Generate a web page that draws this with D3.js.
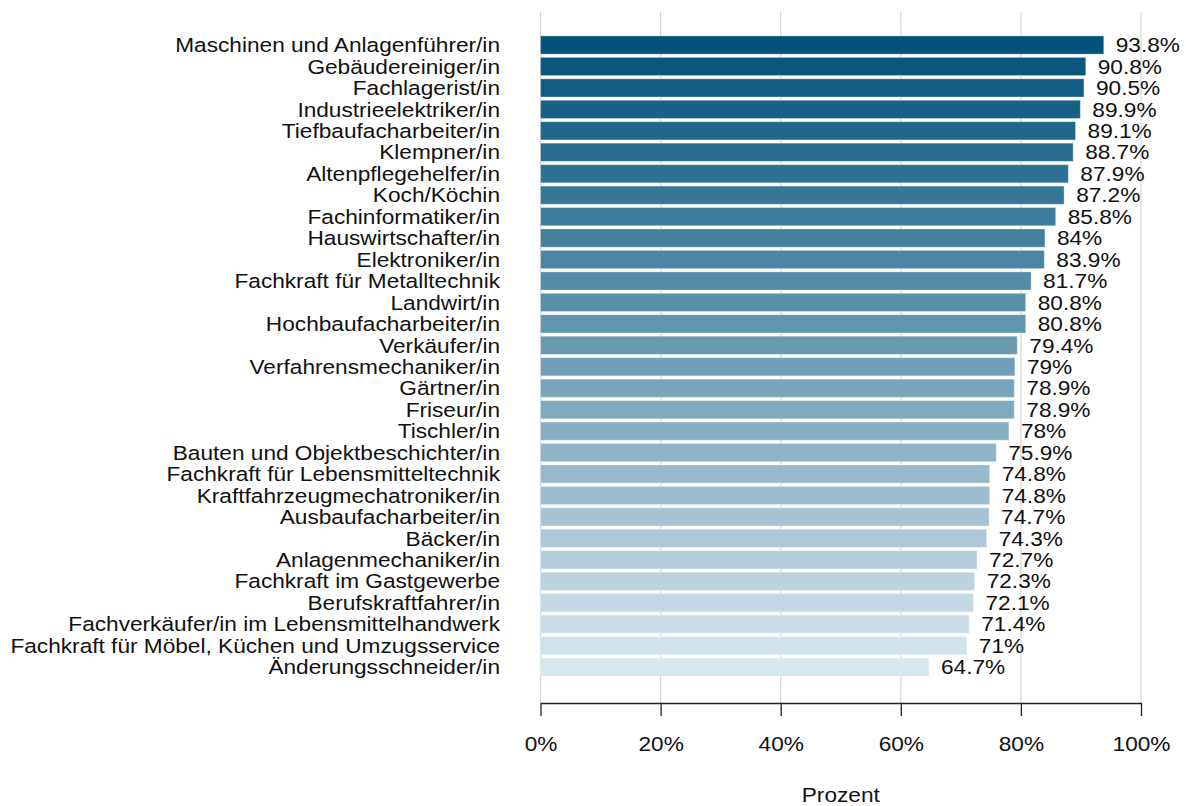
<!DOCTYPE html>
<html><head><meta charset="utf-8">
<script src="https://cdn.jsdelivr.net/npm/d3@7"></script>
<style>body{margin:0;background:#fff}svg{display:block;font-family:"Liberation Sans",Arial,sans-serif}</style>
</head><body><svg id="c" width="1186" height="806"></svg>
<script>
const categories = ["Maschinen und Anlagenführer/in","Gebäudereiniger/in","Fachlagerist/in","Industrieelektriker/in","Tiefbaufacharbeiter/in","Klempner/in","Altenpflegehelfer/in","Koch/Köchin","Fachinformatiker/in","Hauswirtschafter/in","Elektroniker/in","Fachkraft für Metalltechnik","Landwirt/in","Hochbaufacharbeiter/in","Verkäufer/in","Verfahrensmechaniker/in","Gärtner/in","Friseur/in","Tischler/in","Bauten und Objektbeschichter/in","Fachkraft für Lebensmitteltechnik","Kraftfahrzeugmechatroniker/in","Ausbaufacharbeiter/in","Bäcker/in","Anlagenmechaniker/in","Fachkraft im Gastgewerbe","Berufskraftfahrer/in","Fachverkäufer/in im Lebensmittelhandwerk","Fachkraft für Möbel, Küchen und Umzugsservice","Änderungsschneider/in"];
const values = [93.8,90.8,90.5,89.9,89.1,88.7,87.9,87.2,85.8,84,83.9,81.7,80.8,80.8,79.4,79,78.9,78.9,78,75.9,74.8,74.8,74.7,74.3,72.7,72.3,72.1,71.4,71,64.7];
const valueLabels = ["93.8%","90.8%","90.5%","89.9%","89.1%","88.7%","87.9%","87.2%","85.8%","84%","83.9%","81.7%","80.8%","80.8%","79.4%","79%","78.9%","78.9%","78%","75.9%","74.8%","74.8%","74.7%","74.3%","72.7%","72.3%","72.1%","71.4%","71%","64.7%"];
const xTicks = [0,20,40,60,80,100];
const xTickLabels = ["0%","20%","40%","60%","80%","100%"];
const axisTitle = "Prozent";

const FS = 20.5, SX = 1.105;
const svg = d3.select("#c");
const x = d3.scaleLinear().domain([0,100]).range([540.5,1141]);
const y = d3.scaleBand().domain(categories).range([34.3,677.8]).paddingInner(0.15).paddingOuter(0.075);
const color = d3.scaleLinear().domain([0, categories.length-1]).range(["#02527a","#d9e7ef"]).interpolate(d3.interpolateRgb);

const gridTop = 12, axisY = 703;
svg.append("g").selectAll("line").data(xTicks).join("line")
  .attr("x1", d=>x(d)).attr("x2", d=>x(d)).attr("y1", gridTop).attr("y2", axisY)
  .attr("stroke", "#d6d6d6").attr("stroke-width", 1.2);

svg.append("g").selectAll("rect").data(categories).join("rect")
  .attr("x", x(0)).attr("y", d=>y(d)).attr("width", (d,i)=>x(values[i])-x(0)).attr("height", y.bandwidth())
  .attr("fill", (d,i)=>color(i)).attr("stroke", "#ffffff").attr("stroke-opacity",0.35).attr("stroke-width",1);

svg.append("g").selectAll("text").data(categories).join("text")
  .attr("transform", d=>`translate(500,${y(d)+y.bandwidth()/2}) scale(${SX},1)`).attr("dy","0.35em")
  .attr("text-anchor","end").attr("font-size", FS).attr("fill","#111").text(d=>d);

svg.append("g").selectAll("text").data(categories).join("text")
  .attr("transform", (d,i)=>`translate(${x(values[i])+12},${y(d)+y.bandwidth()/2}) scale(${SX},1)`).attr("dy","0.35em")
  .attr("font-size", FS).attr("fill","#111").text((d,i)=>valueLabels[i]);

const axis = d3.axisBottom(x).tickValues(xTicks).tickFormat((d,i)=>xTickLabels[i]).tickSize(13).tickSizeOuter(0).tickPadding(20);
const ag = svg.append("g").attr("transform",`translate(0,${axisY})`).call(axis);
ag.select(".domain").attr("stroke","#222").attr("stroke-width",1.3);
ag.selectAll(".tick line").attr("stroke","#222").attr("stroke-width",1.3);
ag.selectAll(".tick text").attr("font-size",FS).attr("fill","#111").attr("font-family","Liberation Sans, Arial, sans-serif")
  .attr("transform",`scale(${SX},1)`);

svg.append("text").attr("transform",`translate(${x(50)},795) scale(${SX},1)`).attr("dy","0.35em").attr("text-anchor","middle")
  .attr("font-size",FS).attr("fill","#111").text(axisTitle);
</script></body></html>
